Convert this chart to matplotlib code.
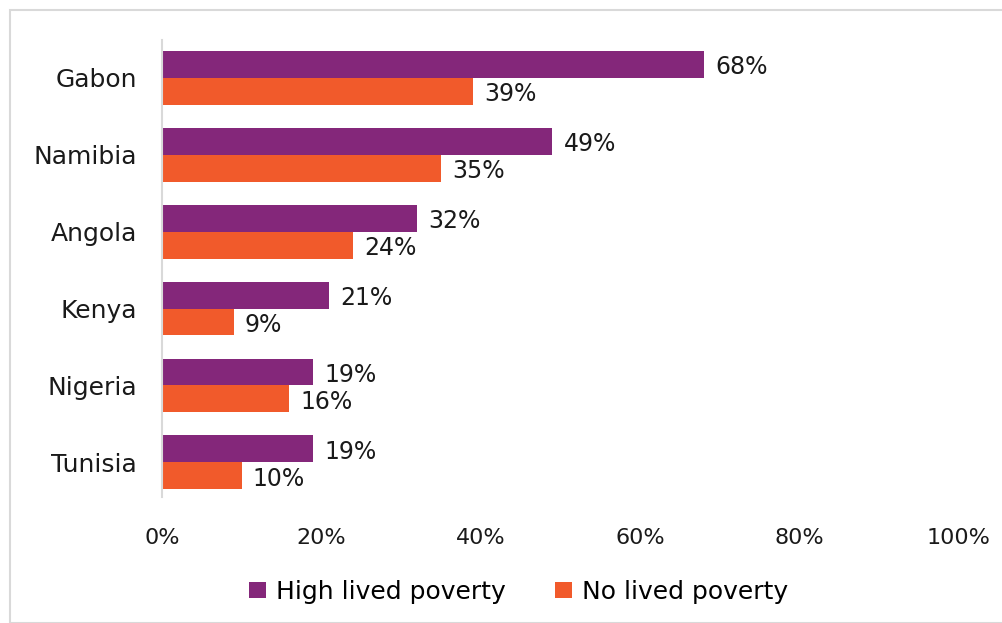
import matplotlib.pyplot as plt
from matplotlib.patches import Rectangle
from matplotlib.ticker import PercentFormatter
import numpy as np

countries = ["Gabon", "Namibia", "Angola", "Kenya", "Nigeria", "Tunisia"]
high_poverty = [68, 49, 32, 21, 19, 19]
no_poverty = [39, 35, 24, 9, 16, 10]
series_names = ["High lived poverty", "No lived poverty"]
colors = ["#84277A", "#F15A2B"]

plt.rcParams['font.family'] = ['DejaVu Sans']

fig = plt.figure(figsize=(10.03, 6.23), dpi=100)
fig.patches.append(Rectangle((10 / 1003, 0), 1.0, 1 - 10 / 623, transform=fig.transFigure,
                             fill=False, edgecolor="#d9d9d9", linewidth=1.5))
ax = fig.add_axes([0.1615, 0.2022, 0.7945, 0.734])

y = np.arange(len(countries))
h = 0.35
b1 = ax.barh(y - h / 2, high_poverty, height=h, color=colors[0], label=series_names[0])
b2 = ax.barh(y + h / 2, no_poverty, height=h, color=colors[1], label=series_names[1])

for bars, vals in [(b1, high_poverty), (b2, no_poverty)]:
    for bar, v in zip(bars, vals):
        ax.annotate(f"{v}%", (bar.get_width(), bar.get_y() + bar.get_height() / 2),
                    xytext=(8, -2), textcoords="offset points", ha="left", va="center",
                    fontsize=17, color="#1a1a1a")

ax.set_xlim(0, 100)
ax.set_ylim(5.45, -0.493)
ax.set_yticks(y)
ax.set_yticklabels(countries, fontsize=18)
ax.xaxis.set_major_formatter(PercentFormatter(decimals=0))
ax.set_xticks(range(0, 101, 20))
ax.tick_params(axis="both", length=0, colors="#1a1a1a")
ax.tick_params(axis="x", pad=22, labelsize=16)
ax.tick_params(axis="y", pad=18)
for s in ["top", "right", "bottom"]:
    ax.spines[s].set_visible(False)
ax.spines["left"].set_color("#d9d9d9")
ax.spines["left"].set_linewidth(1.5)

fig.legend(handles=[b1, b2], loc="center", bbox_to_anchor=(0.517, 0.05), ncol=2,
           frameon=False, fontsize=18, handlelength=0.65, handleheight=0.65,
           handletextpad=0.4, columnspacing=2.0)

fig.savefig("out.png", dpi=100)
